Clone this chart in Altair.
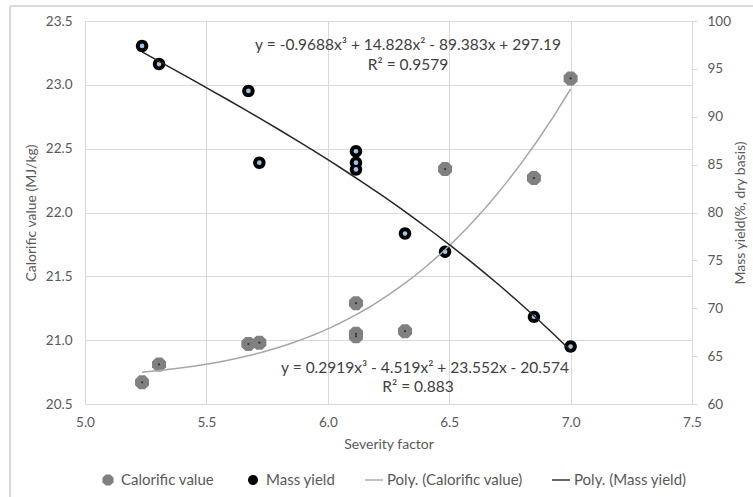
import altair as alt
import pandas as pd

# ---- data ----
severity = [5.235, 5.305, 5.673, 5.718, 6.116, 6.116, 6.116, 6.318, 6.483, 6.849, 7.0]
calorific = [20.67, 20.81, 20.97, 20.98, 21.29, 21.05, 21.03, 21.07, 22.34, 22.27, 23.05]
mass_yield = [97.4, 95.5, 92.7, 85.2, 86.4, 85.2, 84.5, 77.8, 75.9, 69.1, 66.0]

series_names = ["Calorific value", "Mass yield", "Poly. (Calorific value)", "Poly. (Mass yield)"]
series_colors = ["#808080", "#000000", "#a6a6a6", "#262626"]

x_ticks = [5.0, 5.5, 6.0, 6.5, 7.0, 7.5]
cv_ticks = [20.5, 21.0, 21.5, 22.0, 22.5, 23.0, 23.5]
my_ticks = [60, 65, 70, 75, 80, 85, 90, 95, 100]

eq_mass = ["y = -0.9688x³ + 14.828x² - 89.383x + 297.19", "R² = 0.9579"]
eq_cal = ["y = 0.2919x³ - 4.519x² + 23.552x - 20.574", "R² = 0.883"]

df = pd.DataFrame({"sf": severity, "cv": calorific, "my": mass_yield})

FONT = "Lato, 'Liberation Sans', sans-serif"
TXT = "#595959"
GRID = "#d9d9d9"

OCT = "M0.554,0.23L0.23,0.554L-0.23,0.554L-0.554,0.23L-0.554,-0.23L-0.23,-0.554L0.23,-0.554L0.554,-0.23Z"
CIRC = "M0.5,0A0.5,0.5,0,1,1,-0.5,0A0.5,0.5,0,1,1,0.5,0Z"
LINE = "M-0.9,-0.07L0.9,-0.07L0.9,0.07L-0.9,0.07Z"

color_scale = alt.Scale(domain=series_names, range=series_colors)
shape_scale = alt.Scale(domain=series_names, range=[OCT, CIRC, LINE, LINE])


def make_legend():
    return alt.Legend(
        title=None, orient="none", legendX=13, legendY=449, direction="horizontal",
        columns=4, symbolSize=400, symbolStrokeWidth=0, labelFont=FONT, labelFontSize=15,
        labelColor=TXT, columnPadding=28, labelOffset=3, padding=0, symbolOpacity=1,
        labelLimit=300,
    )


x_scale = alt.Scale(domain=[5.0, 7.5], nice=False, zero=False)
cv_scale = alt.Scale(domain=[20.5, 23.5], nice=False, zero=False)
my_scale = alt.Scale(domain=[60, 100], nice=False, zero=False)

x_axis = alt.Axis(values=x_ticks, format=".1f", grid=True, gridColor=GRID, ticks=False,
                  domainColor=GRID, labelFont=FONT, labelFontSize=13.5, labelColor=TXT,
                  labelPadding=11, titleFont=FONT, titleFontSize=14, titleColor=TXT,
                  titleFontWeight="normal", titlePadding=9, labelFlush=False)
cv_axis = alt.Axis(values=cv_ticks, format=".1f", grid=True, gridColor=GRID, ticks=False,
                   domainColor=GRID, labelFont=FONT, labelFontSize=13.5, labelColor=TXT,
                   labelPadding=13, titleFont=FONT, titleFontSize=14, titleColor=TXT,
                   titleFontWeight="normal", titlePadding=7, orient="left")
my_axis = alt.Axis(values=my_ticks, format="d", grid=False, ticks=True, tickSize=5,
                   tickColor=GRID, domainColor=GRID, labelFont=FONT, labelFontSize=13.5,
                   labelColor=TXT, labelPadding=10, titleFont=FONT, titleFontSize=14,
                   titleColor=TXT, titleFontWeight="normal", titlePadding=3,
                   orient="right", titleAngle=270, titleBaseline="top")

X = alt.X("sf:Q", scale=x_scale, axis=x_axis, title="Severity factor")

base = alt.Chart(df)

border = base.mark_rect(filled=False, stroke=GRID, strokeWidth=1).encode(
    x=alt.value(-75), x2=alt.value(675), y=alt.value(-15), y2=alt.value(600)
)

cv_pts = base.transform_calculate(series="'Calorific value'").mark_point(
    filled=True, opacity=1, size=640
).encode(
    x=X,
    y=alt.Y("cv:Q", scale=cv_scale, axis=cv_axis, title="Calorific value (MJ/kg)"),
    color=alt.Color("series:N", scale=color_scale, legend=make_legend()),
    shape=alt.Shape("series:N", scale=shape_scale, legend=make_legend()),
)

cv_dot = base.mark_point(filled=True, opacity=1, shape="circle", size=5, color="#333333").encode(
    x=X,
    y=alt.Y("cv:Q", scale=cv_scale, axis=None),
)

my_pts = base.transform_calculate(series="'Mass yield'").mark_point(
    filled=True, opacity=1, size=620
).encode(
    x=X,
    y=alt.Y("my:Q", scale=my_scale, axis=my_axis, title="Mass yield(%, dry basis)"),
    color=alt.Color("series:N", scale=color_scale, legend=make_legend()),
    shape=alt.Shape("series:N", scale=shape_scale, legend=make_legend()),
)

my_dot = base.mark_point(filled=True, opacity=1, shape="circle", size=22, color="#9dc3e6").encode(
    x=X,
    y=alt.Y("my:Q", scale=my_scale, axis=None),
)

cv_fit = base.transform_regression("sf", "cv", method="poly", order=3).transform_calculate(
    series="'Poly. (Calorific value)'"
).mark_line(strokeWidth=1.5).encode(
    x=X,
    y=alt.Y("cv:Q", scale=cv_scale, axis=None),
    color=alt.Color("series:N", scale=color_scale, legend=make_legend()),
)

my_fit = base.transform_regression("sf", "my", method="poly", order=3).transform_calculate(
    series="'Poly. (Mass yield)'"
).mark_line(strokeWidth=1.5).encode(
    x=X,
    y=alt.Y("my:Q", scale=my_scale, axis=None),
    color=alt.Color("series:N", scale=color_scale, legend=make_legend()),
)


def label(text, px, py):
    return alt.Chart(pd.DataFrame({"t": [text]})).mark_text(
        font=FONT, fontSize=15.5, color="#404040", align="center", baseline="middle"
    ).encode(text="t:N", x=alt.value(px), y=alt.value(py))


texts = [
    label(eq_mass[0], 323, 24),
    label(eq_mass[1], 323, 44),
    label(eq_cal[0], 340, 347),
    label(eq_cal[1], 333, 366),
]

chart = alt.layer(
    border, cv_pts, cv_dot, my_pts, my_dot, cv_fit, my_fit, *texts
).resolve_scale(y="independent").properties(
    width=607, height=383,
    autosize=alt.AutoSizeParams(type="none"),
    padding={"left": 85, "top": 21, "right": 61, "bottom": 93},
    background="white",
).configure_view(stroke=None)

chart.save("out.html", embed_options={"renderer": "svg", "actions": False})
